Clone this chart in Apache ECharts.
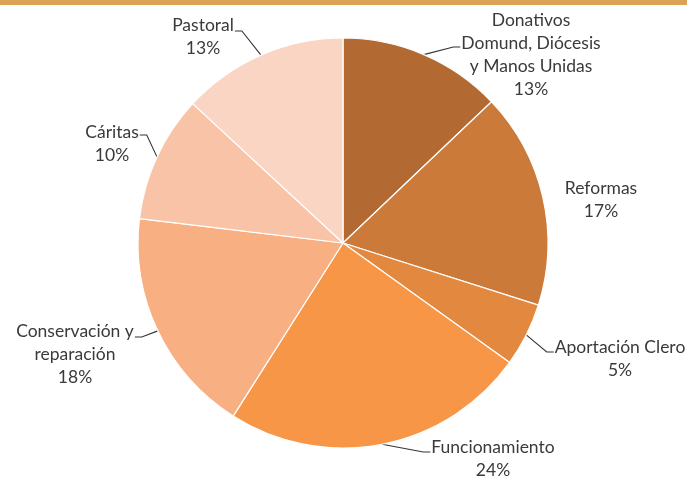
<!DOCTYPE html>
<html>
<head>
<meta charset="utf-8">
<script src="https://cdn.jsdelivr.net/npm/echarts@6/dist/echarts.min.js"></script>
<style>
  html, body { margin: 0; padding: 0; background: #fff; }
  #chart { width: 687px; height: 477px; }
</style>
</head>
<body>
<div id="chart"></div>
<script>
// data
const categories = [
  'Donativos\nDomund, Diócesis\ny Manos Unidas',
  'Reformas',
  'Aportación Clero',
  'Funcionamiento',
  'Conservación y\nreparación',
  'Cáritas',
  'Pastoral'
];
const values = [12.9, 17.0, 5.0, 24.1, 17.9, 10.0, 13.1];
const colors = ['#B36A32', '#CB7A3A', '#E3883F', '#F79646', '#F8AF82', '#F9C3A7', '#FAD5C4'];

// label block centre + which side the leader line joins ('l' / 'r' / null)
const labelSpots = [
  { x: 531, y: 55, side: 'l', lineY: 47 },
  { x: 601, y: 200, side: null },
  { x: 620, y: 359, side: 'l', lineY: 352 },
  { x: 493, y: 459, side: 'l', lineY: 452 },
  { x: 75, y: 354, side: 'r', lineY: 337 },
  { x: 112, y: 144, side: 'r', lineY: 135 },
  { x: 203, y: 37, side: 'r', lineY: 31 }
];

const chart = echarts.init(document.getElementById('chart'));

const option = {
  animation: false,
  graphic: [{
    type: 'rect',
    shape: { x: 0, y: 0, width: 687, height: 5 },
    style: { fill: '#D9A254' }
  }],
  series: [{
    type: 'pie',
    center: [343, 243],
    radius: 205,
    startAngle: 90,
    clockwise: true,
    avoidLabelOverlap: false,
    itemStyle: { borderColor: '#fff', borderWidth: 1.2 },
    label: {
      position: 'outside',
      fontFamily: 'Lato',
      fontSize: 17.5,
      lineHeight: 23,
      color: '#3a3a3a',
      align: 'center',
      formatter: p => p.name + '\n' + Math.round(p.percent) + '%'
    },
    labelLine: {
      show: true,
      length: 10,
      length2: 10,
      lineStyle: { color: '#333', width: 1.1 }
    },
    labelLayout: function (params) {
      const s = labelSpots[params.dataIndex];
      const r = params.labelRect;
      const out = { x: s.x, y: s.y, align: 'center', verticalAlign: 'middle' };
      if (s.side && params.labelLinePoints) {
        const start = params.labelLinePoints[0];
        const endX = s.side === 'l' ? s.x - r.width / 2 - 1 : s.x + r.width / 2 + 1;
        const elbowX = s.side === 'l' ? endX - 7 : endX + 7;
        out.labelLinePoints = [start, [elbowX, s.lineY], [endX, s.lineY]];
      }
      return out;
    },
    data: categories.map((name, i) => ({
      name: name,
      value: values[i],
      itemStyle: { color: colors[i] },
      labelLine: { show: labelSpots[i].side !== null }
    }))
  }]
};

chart.setOption(option);
</script>
</body>
</html>
